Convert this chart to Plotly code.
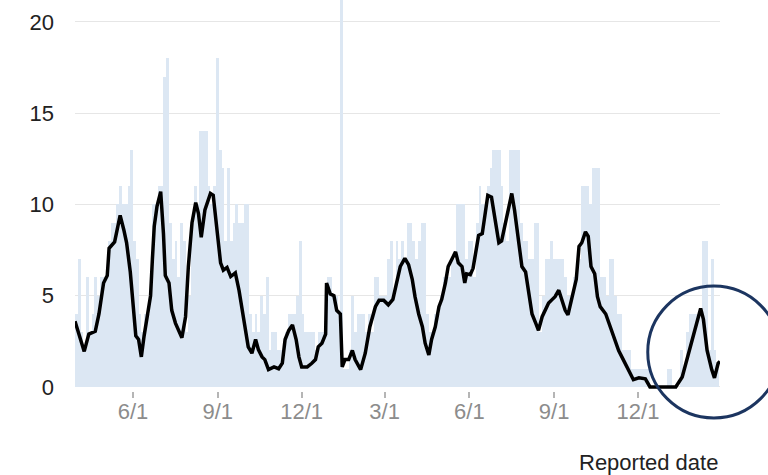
import pandas as pd
import plotly.graph_objects as go

# ---- data ----
bar_start = "2021-03-30"          # first 3-day bin
bar_values = [
    4, 7, 3, 2, 6, 3, 4, 6, 5, 6,
    6, 6, 8, 9, 9, 10, 11, 10, 10, 11,
    13, 8, 7, 4, 3, 4, 4, 6, 10, 10,
    11, 11, 17, 18, 9, 7, 8, 6, 9, 8,
    3, 5, 9, 11, 10, 14, 14, 14, 11, 10,
    11, 18, 13, 12, 8, 12, 8, 9, 10, 9,
    9, 10, 10, 4, 3, 4, 3, 5, 4, 6,
    2, 3, 3, 2, 2, 2, 3, 4, 4, 4,
    5, 8, 4, 3, 3, 3, 3, 2, 3, 3,
    3, 6, 6, 5, 5, 4, 25, 1, 1, 2,
    5, 3, 4, 4, 4, 3, 4, 3, 6, 6,
    5, 5, 5, 7, 8, 5, 8, 7, 8, 7,
    9, 9, 8, 7, 8, 9, 9, 4, 3, 3,
    4, 4, 5, 6, 6, 6, 7, 7, 10, 10,
    10, 7, 8, 8, 6, 9, 11, 10, 10, 11,
    12, 13, 13, 13, 11, 9, 8, 13, 13, 13,
    13, 9, 8, 8, 7, 7, 9, 9, 3, 5,
    7, 7, 8, 7, 7, 7, 7, 6, 5, 5,
    6, 6, 7, 11, 11, 11, 10, 12, 12, 12,
    6, 6, 5, 7, 7, 5, 4, 4, 2, 2,
    2, 1, 1, 1, 1, 1, 1, 1, 0, 0,
    0, 0, 0, 0, 1, 1, 0, 0, 0, 2,
    1, 3, 4, 4, 4, 4, 4, 8, 8, 2,
    7, 2, 1,
]

avg_dates = [
    "2021-03-30", "2021-04-03", "2021-04-09", "2021-04-14", "2021-04-21", "2021-04-25",
    "2021-04-30", "2021-05-04", "2021-05-06", "2021-05-12", "2021-05-15", "2021-05-18",
    "2021-05-22", "2021-05-25", "2021-05-29", "2021-06-02", "2021-06-04", "2021-06-07",
    "2021-06-10", "2021-06-13", "2021-06-16", "2021-06-20", "2021-06-22", "2021-06-24",
    "2021-06-27", "2021-07-01", "2021-07-04", "2021-07-06", "2021-07-10", "2021-07-13",
    "2021-07-17", "2021-07-22", "2021-07-24", "2021-07-28", "2021-07-31", "2021-08-04",
    "2021-08-08", "2021-08-11", "2021-08-14", "2021-08-18", "2021-08-24", "2021-08-27",
    "2021-08-31", "2021-09-04", "2021-09-07", "2021-09-11", "2021-09-15", "2021-09-18",
    "2021-09-20", "2021-09-24", "2021-09-27", "2021-10-01", "2021-10-04", "2021-10-08",
    "2021-10-12", "2021-10-15", "2021-10-19", "2021-10-22", "2021-10-26", "2021-11-01",
    "2021-11-06", "2021-11-10", "2021-11-13", "2021-11-17", "2021-11-21", "2021-11-25",
    "2021-11-28", "2021-12-01", "2021-12-07", "2021-12-12", "2021-12-16", "2021-12-19",
    "2021-12-23", "2021-12-27", "2021-12-28", "2022-01-01", "2022-01-05", "2022-01-08",
    "2022-01-12", "2022-01-14", "2022-01-17", "2022-01-21", "2022-01-25", "2022-01-28",
    "2022-02-03", "2022-02-08", "2022-02-13", "2022-02-19", "2022-02-23", "2022-02-28",
    "2022-03-05", "2022-03-10", "2022-03-14", "2022-03-18", "2022-03-23", "2022-03-27",
    "2022-03-31", "2022-04-03", "2022-04-07", "2022-04-11", "2022-04-14", "2022-04-18",
    "2022-04-21", "2022-04-25", "2022-04-29", "2022-05-02", "2022-05-06", "2022-05-09",
    "2022-05-13", "2022-05-17", "2022-05-20", "2022-05-24", "2022-05-27", "2022-05-29",
    "2022-06-02", "2022-06-05", "2022-06-07", "2022-06-11", "2022-06-15", "2022-06-18",
    "2022-06-21", "2022-06-25", "2022-06-29", "2022-07-03", "2022-07-06", "2022-07-10",
    "2022-07-14", "2022-07-17", "2022-07-20", "2022-07-24", "2022-07-28", "2022-08-01",
    "2022-08-04", "2022-08-08", "2022-08-12", "2022-08-15", "2022-08-19", "2022-08-22",
    "2022-08-26", "2022-08-30", "2022-09-02", "2022-09-06", "2022-09-09", "2022-09-13",
    "2022-09-16", "2022-09-19", "2022-09-22", "2022-09-25", "2022-09-28", "2022-10-01",
    "2022-10-05", "2022-10-08", "2022-10-11", "2022-10-15", "2022-10-18", "2022-10-21",
    "2022-10-27", "2022-11-01", "2022-11-05", "2022-11-10", "2022-11-15", "2022-11-21",
    "2022-11-26", "2022-12-02", "2022-12-09", "2022-12-14", "2023-01-11", "2023-01-18",
    "2023-01-23", "2023-01-29", "2023-02-03", "2023-02-07", "2023-02-10", "2023-02-14",
    "2023-02-19", "2023-02-22", "2023-02-26", "2023-02-28",
]
avg_values = [
    3.6, 2.9, 1.95, 2.9, 3.05, 4.0,
    5.7, 6.1, 7.6, 7.95, 8.8, 9.4,
    8.6, 7.9, 6.3, 4.2, 2.8, 2.6,
    1.65, 2.8, 3.7, 5.0, 7.0, 8.8,
    9.9, 10.7, 8.4, 6.1, 5.7, 4.2,
    3.5, 2.95, 2.7, 3.85, 6.6, 9.0,
    10.1, 9.5, 8.2, 9.7, 10.6, 10.5,
    8.6, 6.8, 6.4, 6.55, 6.05, 6.2,
    6.25, 5.3, 4.4, 3.3, 2.2, 1.85,
    2.6, 2.05, 1.65, 1.5, 0.95, 1.1,
    1.0, 1.3, 2.6, 3.1, 3.4, 2.6,
    1.65, 1.1, 1.1, 1.3, 1.5, 2.2,
    2.4, 2.9, 5.7, 5.1, 5.0, 4.2,
    4.0, 1.1, 1.5, 1.5, 2.0, 1.5,
    0.95, 1.85, 3.3, 4.4, 4.75, 4.75,
    4.5, 4.8, 5.8, 6.6, 7.05, 6.7,
    5.9, 4.95, 4.0, 3.3, 2.4, 1.75,
    2.6, 3.3, 4.4, 4.8, 5.7, 6.6,
    7.0, 7.4, 6.8, 6.6, 5.7, 6.2,
    6.15, 6.5, 7.1, 8.3, 8.4, 9.5,
    10.5, 10.4, 9.2, 7.9, 8.0, 9.0,
    9.9, 10.6, 9.7, 8.2, 6.6, 6.3,
    5.3, 4.0, 3.5, 3.1, 3.85, 4.2,
    4.6, 4.8, 4.95, 5.3, 4.8, 4.2,
    3.95, 4.6, 5.3, 5.9, 7.7, 7.9,
    8.5, 8.25, 6.6, 6.2, 4.95, 4.4,
    4.0, 3.3, 2.6, 2.0, 1.5, 0.95,
    0.4, 0.5, 0.45, 0.0, 0.0, 0.55,
    1.5, 2.6, 3.7, 4.3, 3.7, 2.0,
    0.95, 0.5, 1.3, 1.4,
]

tick_dates = ["2021-06-01", "2021-09-01", "2021-12-01", "2022-03-01",
              "2022-06-01", "2022-09-01", "2022-12-01"]
tick_labels = ["6/1", "9/1", "12/1", "3/1", "6/1", "9/1", "12/1"]
y_ticks = [0, 5, 10, 15, 20]
x_title = "Reported date"

# ---- figure ----
DAY_MS = 86400000
bar_dates = pd.date_range(bar_start, periods=len(bar_values), freq="3D")

fig = go.Figure()
fig.add_trace(go.Bar(
    x=bar_dates, y=bar_values,
    width=3 * DAY_MS, offset=0,
    marker=dict(color="#dce7f3", line=dict(width=0)),
    hoverinfo="skip",
))
fig.add_trace(go.Scatter(
    x=pd.to_datetime(avg_dates), y=avg_values,
    mode="lines",
    line=dict(color="#000000", width=3.5),
    hoverinfo="skip",
))

FONT = "Liberation Sans, Arial, sans-serif"
fig.update_layout(
    width=768, height=475,
    margin=dict(l=75, r=48, t=0, b=84),
    paper_bgcolor="white", plot_bgcolor="white",
    showlegend=False, bargap=0,
    font=dict(family=FONT, size=22, color="#222222"),
    xaxis=dict(
        type="date",
        range=["2021-03-30", "2023-02-28"],
        tickvals=pd.to_datetime(tick_dates), ticktext=tick_labels,
        ticks="outside", ticklen=6, tickwidth=2, tickcolor="#b5b5b5",
        tickfont=dict(size=22, color="#8c8c8c"),
        ticklabelstandoff=-5,
        showgrid=False, zeroline=False, showline=False,
    ),
    yaxis=dict(
        range=[-0.22, 21.2],
        tickvals=y_ticks,
        tickfont=dict(size=22, color="#222222"),
        ticklabelstandoff=20,
        showgrid=True, gridcolor="#e6e6e6", gridwidth=1,
        zeroline=False, showline=False,
    ),
    shapes=[dict(
        type="circle", xref="paper", yref="paper",
        x0=0.888, x1=1.093, y0=-0.069, y1=0.2685,
        line=dict(color="#1c3560", width=3),
        fillcolor="rgba(0,0,0,0)",
    )],
    annotations=[dict(
        text=x_title, xref="paper", yref="paper",
        x=1.0, y=-0.1816, xanchor="right", yanchor="middle",
        showarrow=False, font=dict(size=22, color="#222222"),
    )],
)

fig.write_html(
    "out.html",
    config={"displayModeBar": False},
    post_script="document.body.style.margin='0';",
)
